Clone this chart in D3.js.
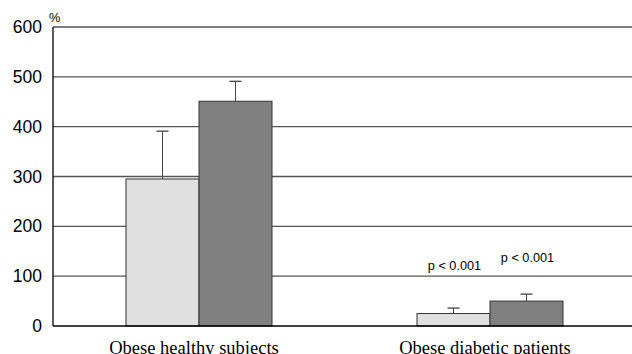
<!DOCTYPE html>
<html lang="en">
<head>
  <meta charset="UTF-8">
  <script src="https://d3js.org/d3.v7.min.js"></script>
  <style>
    body { margin: 0; background: #fff; }
    text.tick { font-family: 'Liberation Sans', Arial, sans-serif; font-size: 17.5px; fill: #000; }
    text.cat { font-family: 'Liberation Serif', 'Times New Roman', serif; font-size: 18.5px; fill: #000; }
    text.note { font-family: 'Liberation Sans', Arial, sans-serif; font-size: 12.7px; fill: #000; }
  </style>
</head>
<body>
<script>
  // data
  const groups = ["Obese healthy subjects", "Obese diabetic patients"];
  const series = ["a", "b"];
  const means = [[295, 451], [25, 50]];
  const errs = [[96, 40], [11, 14]];
  const notes = [[null, null], ["p < 0.001", "p < 0.001"]];
  const yTicks = [0, 100, 200, 300, 400, 500, 600];

  const W = 632, H = 354;
  const mLeft = 53, mRight = 632, mTop = 27, mBottom = 326;

  const svg = d3.select("body").append("svg")
    .attr("width", W)
    .attr("height", H);

  const y = d3.scaleLinear().domain([0, 600]).range([mBottom, mTop]);
  const x = d3.scaleBand().domain(groups).range([53.5, 635.5]);
  const xs = d3.scaleBand().domain(series).range([0, 146]);

  // gridlines
  svg.selectAll("line.grid")
    .data(yTicks.filter(d => d > 0))
    .enter().append("line")
    .attr("x1", mLeft).attr("x2", mRight)
    .attr("y1", d => y(d)).attr("y2", d => y(d))
    .attr("stroke", "#555").attr("stroke-width", 1.3);

  // tick labels
  svg.selectAll("text.tick")
    .data(yTicks)
    .enter().append("text")
    .attr("class", "tick")
    .attr("x", 42)
    .attr("y", d => y(d) + 6)
    .attr("text-anchor", "end")
    .text(d => d);

  svg.append("text").attr("class", "note")
    .attr("x", 49).attr("y", 22).attr("font-size", 13).text("%");

  const fills = ["#e0e0e0", "#808080"];

  groups.forEach((g, gi) => {
    const gx = x(g) + x.bandwidth() / 2 - 73;
    series.forEach((s, si) => {
      const bx = gx + xs(s);
      const cx = bx + xs.bandwidth() / 2;
      // error bar (upwards only)
      svg.append("line")
        .attr("x1", cx).attr("x2", cx)
        .attr("y1", y(means[gi][si])).attr("y2", y(means[gi][si] + errs[gi][si]))
        .attr("stroke", "#444").attr("stroke-width", 1);
      svg.append("line")
        .attr("x1", cx - 6).attr("x2", cx + 6)
        .attr("y1", y(means[gi][si] + errs[gi][si])).attr("y2", y(means[gi][si] + errs[gi][si]))
        .attr("stroke", "#444").attr("stroke-width", 1.3);
      svg.append("rect")
        .attr("x", bx).attr("width", xs.bandwidth())
        .attr("y", y(means[gi][si]))
        .attr("height", y(0) - y(means[gi][si]))
        .attr("fill", fills[si]).attr("stroke", "#333").attr("stroke-width", 1);
      if (notes[gi][si]) {
        svg.append("text").attr("class", "note")
          .attr("x", cx + 1)
          .attr("y", si === 0 ? 270 : 262)
          .attr("text-anchor", "middle")
          .text(notes[gi][si]);
      }
    });
    svg.append("text").attr("class", "cat")
      .attr("x", x(g) + x.bandwidth() / 2 - 5)
      .attr("y", 354)
      .attr("text-anchor", "middle")
      .text(g);
  });

  // axes lines
  svg.append("line").attr("x1", mLeft).attr("x2", mLeft).attr("y1", mTop).attr("y2", mBottom)
    .attr("stroke", "#000").attr("stroke-width", 1.3);
  svg.append("line").attr("x1", mLeft).attr("x2", mRight).attr("y1", mBottom).attr("y2", mBottom)
    .attr("stroke", "#000").attr("stroke-width", 1.3);
</script>
</body>
</html>
